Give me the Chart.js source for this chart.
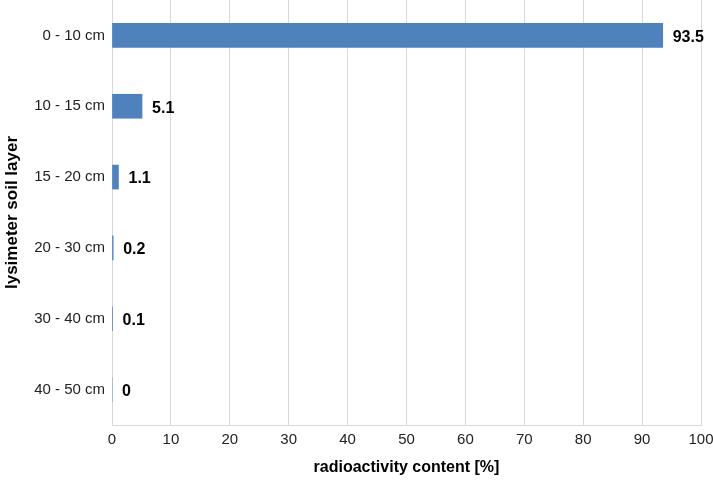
<!DOCTYPE html>
<html lang="en">
<head>
    <meta charset="UTF-8">
    <title>Radioactivity by lysimeter soil layer</title>
    <script src="https://cdn.jsdelivr.net/npm/chart.js"></script>
    <style>
        html, body { margin: 0; padding: 0; background: #fff; }
        #wrap { width: 713px; height: 481px; }
    </style>
</head>
<body>
    <div id="wrap"><canvas id="myChart" width="713" height="481"></canvas></div>

    <script>
        // soil layers and measured share of radioactivity
        const layers = ['0 - 10 cm', '10 - 15 cm', '15 - 20 cm', '20 - 30 cm', '30 - 40 cm', '40 - 50 cm'];
        const content = [93.5, 5.1, 1.1, 0.2, 0.1, 0];
        const xTicks = [0, 10, 20, 30, 40, 50, 60, 70, 80, 90, 100];

        const font = 'Arial, "Liberation Sans", sans-serif';

        // simple value labels right of each bar
        const valueLabels = {
            id: 'valueLabels',
            afterDatasetsDraw(chart) {
                const ctx = chart.ctx;
                const meta = chart.getDatasetMeta(0);
                ctx.save();
                ctx.font = 'bold 16px ' + font;
                ctx.fillStyle = '#000';
                ctx.textAlign = 'left';
                ctx.textBaseline = 'middle';
                meta.data.forEach((bar, i) => {
                    ctx.fillText(String(content[i]), bar.x + 10, bar.y + 2);
                });
                ctx.restore();
            }
        };

        const ctx = document.getElementById('myChart').getContext('2d');
        const myChart = new Chart(ctx, {
            type: 'bar',
            data: {
                labels: layers,
                datasets: [{
                    data: content,
                    backgroundColor: '#4F81BD',
                    borderWidth: 0,
                    barThickness: 24
                }]
            },
            options: {
                indexAxis: 'y',
                responsive: false,
                animation: false,
                layout: { padding: 0 },
                plugins: {
                    legend: { display: false },
                    tooltip: { enabled: false }
                },
                scales: {
                    x: {
                        min: 0,
                        max: 100,
                        afterBuildTicks: scale => { scale.ticks = xTicks.map(v => ({ value: v })); },
                        afterFit: scale => {
                            scale.height = 56;
                            scale.paddingLeft = 0;
                            scale.paddingRight = 12; // the "100" label runs off the edge like the original
                        },
                        grid: { color: '#d9d9d9', lineWidth: 1, drawTicks: false },
                        border: { color: '#d9d9d9' },
                        ticks: { color: '#222', font: { family: font, size: 15 }, padding: 6 },
                        title: {
                            display: true,
                            text: 'radioactivity content [%]',
                            color: '#000',
                            font: { family: font, size: 16, weight: 'bold' },
                            padding: { top: 9 }
                        }
                    },
                    y: {
                        afterFit: scale => {
                            scale.width = 112;
                            scale.paddingTop = 0;
                            scale.paddingBottom = 0;
                        },
                        grid: { display: false, drawTicks: false },
                        border: { color: '#d9d9d9' },
                        ticks: { color: '#222', font: { family: font, size: 15 }, padding: 7 },
                        title: {
                            display: true,
                            text: 'lysimeter soil layer',
                            color: '#000',
                            font: { family: font, size: 17, weight: 'bold' },
                            padding: { top: 2, bottom: 0 }
                        }
                    }
                }
            },
            plugins: [valueLabels]
        });
    </script>
</body>
</html>
